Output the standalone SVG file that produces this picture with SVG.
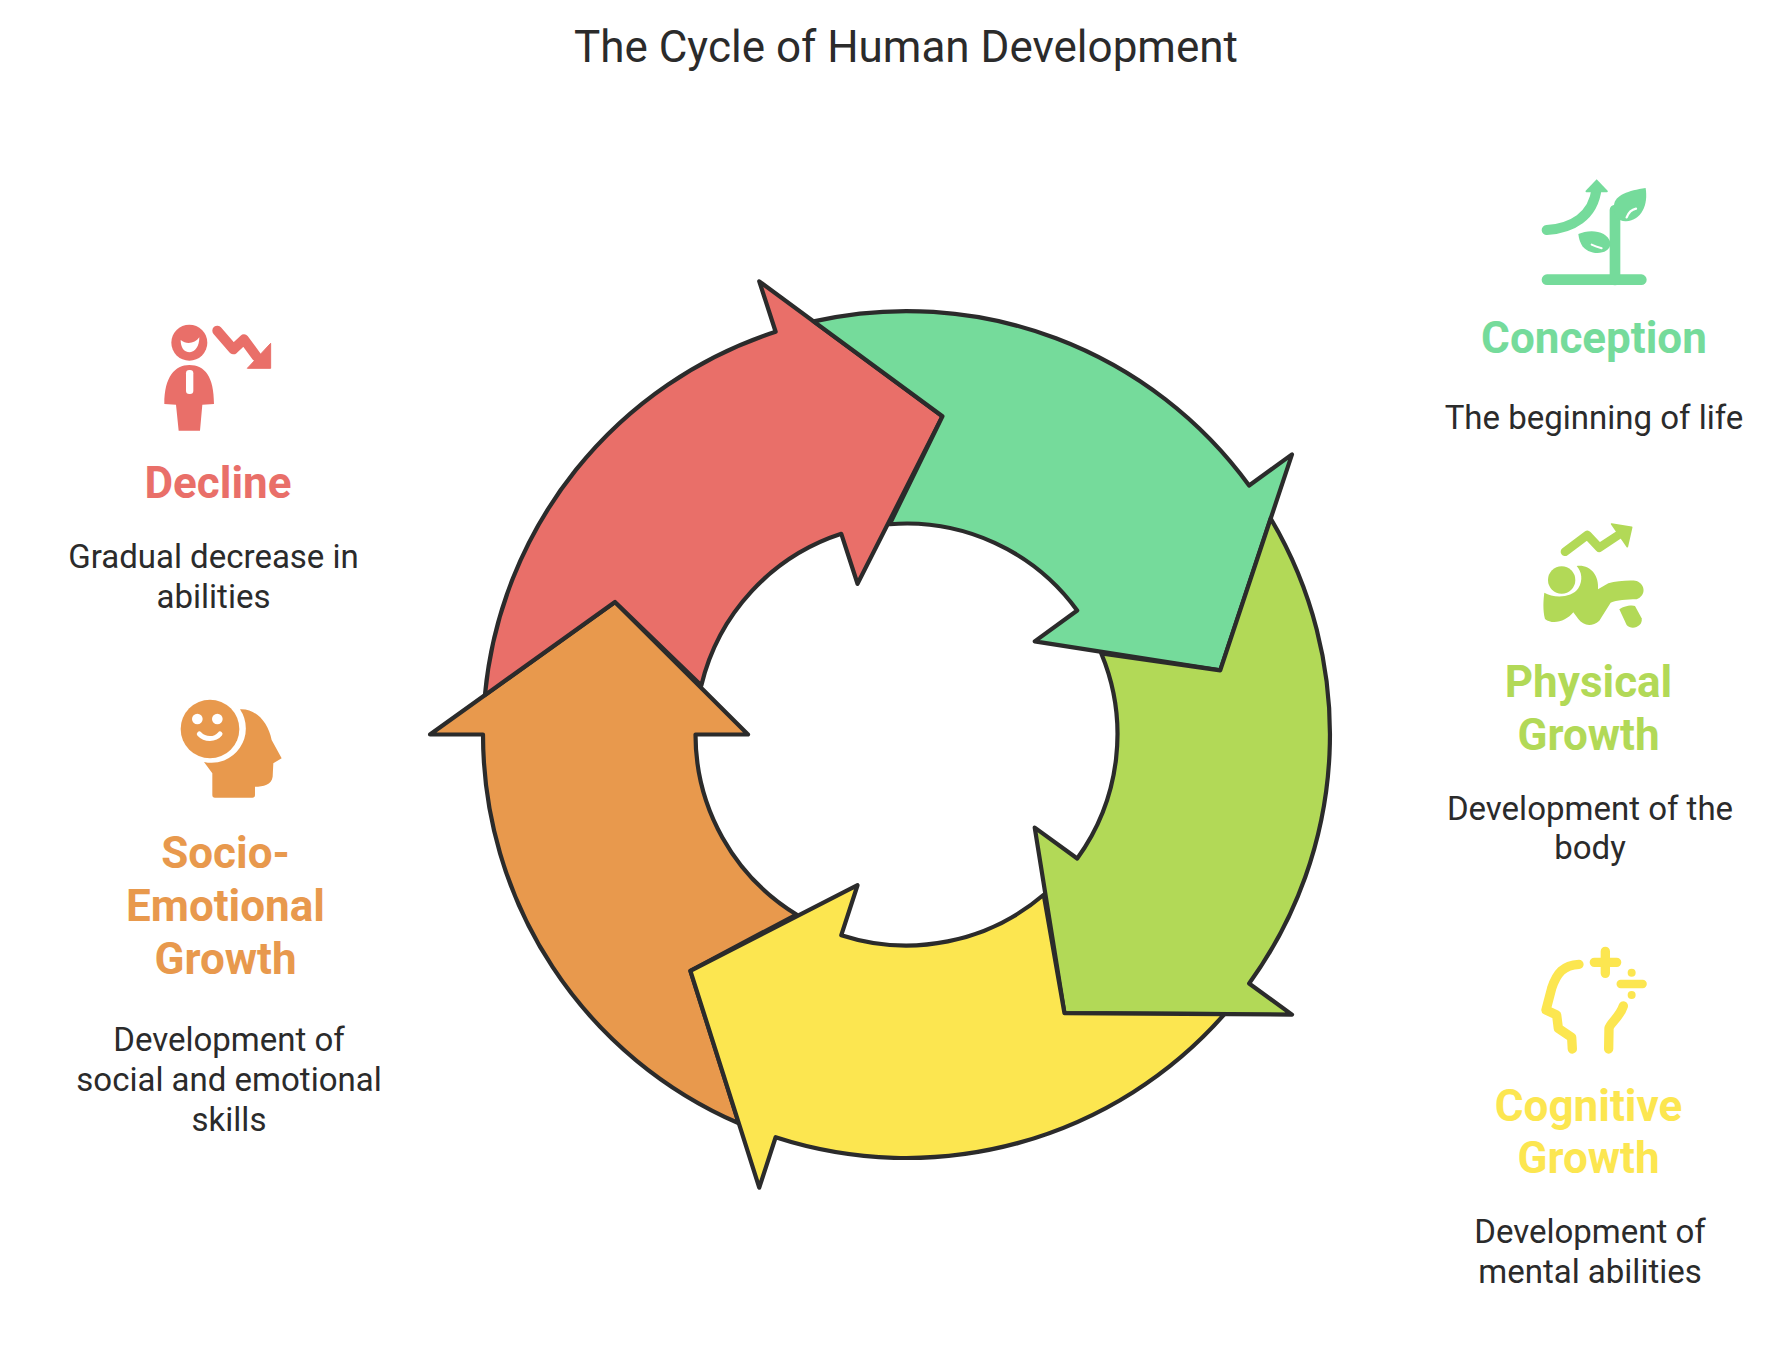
<svg xmlns="http://www.w3.org/2000/svg" width="1788" height="1358" viewBox="0 0 1788 1358">
<style>
text{font-family:Roboto,"Liberation Sans",sans-serif;text-anchor:middle}
.title{font-size:44px;fill:#2b2b2b}
.h{font-size:44px;font-weight:700}
.d{font-size:33px;fill:#2b2b2b}
.ar{stroke:#2b2b2b;stroke-width:4.2;stroke-linejoin:round}
.red{fill:#E96F69}.grn{fill:#75DB9B}.lim{fill:#B2D957}.yel{fill:#FCE650}.org{fill:#E8994D}
.s{fill:none;stroke-linecap:round;stroke-linejoin:round}
</style>
<defs>
<path id="arrow" d="M483 734.5L430 734.5L615 602L748 734.5L695.5 734.5A211 211 0 0 0 796.5 914.5L690.4 970.8L738.8 1123.3A423.5 423.5 0 0 1 483 734.5Z"/>
</defs>
<rect width="1788" height="1358" fill="#fff"/>
<text class="title" x="906" y="62">The Cycle of Human Development</text>
<g id="connectors"/>
<g id="cycle-orange"><use href="#arrow" class="ar org"/></g>
<g id="cycle-red"><use href="#arrow" class="ar red" transform="rotate(72 906.5 734.5)"/></g>
<g id="cycle-green"><use href="#arrow" class="ar grn" transform="rotate(144 906.5 734.5)"/></g>
<g id="cycle-lime"><use href="#arrow" class="ar lim" transform="rotate(216 906.5 734.5)"/></g>
<g id="cycle-yellow"><use href="#arrow" class="ar yel" transform="rotate(288 906.5 734.5)"/></g>

<g id="conception">
<g transform="translate(1500 160) scale(.3333)">
<rect x="125" y="343" width="315" height="32" rx="16" fill="#75DB9B"/>
<path class="s" stroke="#75DB9B" stroke-width="32" d="M345 360V150"/>
<path class="s" stroke="#75DB9B" stroke-width="30" d="M140 210C215 205 280 170 290 85"/>
<path fill="#75DB9B" d="M257 92L290 58L323 92Q325 97 318 97H262Q255 97 257 92Z"/>
<path fill="#75DB9B" d="M342 135C345 105 385 92 437 84C445 135 425 180 378 184C355 185 340 165 342 135Z"/>
<path class="s" stroke="#fff" stroke-width="7" d="M380 172C386 157 394 149 408 146"/>
<path fill="#75DB9B" d="M235 222C265 208 322 208 332 250C330 280 290 285 265 273C245 263 238 245 235 222Z"/>
<path class="s" stroke="#fff" stroke-width="6" d="M275 254C285 259 295 262 305 265"/>
</g>
<text class="h grn" x="1594" y="353">Conception</text>
<text class="d" x="1594" y="429">The beginning of life</text>
</g>

<g id="physical-growth">
<g transform="translate(1510 510) scale(.3333)">
<path class="s" stroke="#B2D957" stroke-width="26" d="M165 125L232 75L268 113L330 72"/>
<path fill="#B2D957" d="M305 42L365 52L352 110Z" stroke="#B2D957" stroke-width="5" stroke-linejoin="round"/>
<circle cx="155" cy="210" r="41" fill="#B2D957"/>
<path fill="#B2D957" d="M200 168C240 163 268 195 264 238L295 220C320 213 360 210 380 213C408 225 408 257 380 268C350 268 320 271 302 278L268 332C245 352 220 347 205 327L190 307C170 332 130 347 105 327C98 300 100 270 103 248C130 265 185 265 205 235C220 210 215 185 200 168Z"/>
<path fill="#B2D957" d="M328 298C335 290 365 283 375 288L395 325C400 350 365 362 350 345Z"/>
</g>
<text class="h lim" x="1588.500" y="697">Physical</text>
<text class="h lim" x="1588.500" y="750">Growth</text>
<text class="d" x="1590" y="820">Development of the</text>
<text class="d" x="1590" y="859">body</text>
</g>

<g id="cognitive-growth">
<g transform="translate(1510 930) scale(.3333)">
<path class="s" stroke="#FCE650" stroke-width="28" d="M207 103C160 105 140 130 125 175L108 240L140 255L145 295L185 322L187 357"/>
<path class="s" stroke="#FCE650" stroke-width="28" d="M340 228C330 260 300 280 297 295L296 357"/>
<path class="s" stroke="#FCE650" stroke-width="28" d="M253 97H320M286 64V130"/>
<path class="s" stroke="#FCE650" stroke-width="25" d="M332 162H398"/>
<circle cx="365" cy="128" r="12" fill="#FCE650"/><circle cx="365" cy="195" r="12" fill="#FCE650"/>
</g>
<text class="h yel" x="1588.500" y="1121">Cognitive</text>
<text class="h yel" x="1588.500" y="1173">Growth</text>
<text class="d" x="1590" y="1243">Development of</text>
<text class="d" x="1590" y="1283">mental abilities</text>
</g>

<g id="socio-emotional-growth">
<g transform="translate(160 680) scale(.3333)">
<circle cx="150" cy="147" r="88" fill="#E8994D"/>
<circle cx="112" cy="117" r="16" fill="#fff"/><circle cx="172" cy="117" r="16" fill="#fff"/>
<path class="s" stroke="#fff" stroke-width="15" d="M118 162C135 180 165 180 180 162"/>
<path fill="#E8994D" d="M240 88C290 85 325 130 335 180L365 235L340 250L338 290C335 315 310 320 285 320V345Q285 353 277 353H165Q157 353 157 345V280L132 246A103 103 0 0 0 240 88Z"/>
</g>
<text class="h org" x="225.500" y="868">Socio-</text>
<text class="h org" x="225.500" y="921">Emotional</text>
<text class="h org" x="225.500" y="974">Growth</text>
<text class="d" x="229" y="1051">Development of</text>
<text class="d" x="229" y="1091">social and emotional</text>
<text class="d" x="229" y="1131">skills</text>
</g>

<g id="decline">
<g transform="translate(140 310) scale(.3333)">
<circle cx="148" cy="98" r="54" fill="#E96F69"/>
<path fill="#fff" d="M122 90C140 105 165 100 178 82C178 110 165 125 150 127C130 127 122 110 122 90Z"/>
<path fill="#E96F69" d="M148 165C195 165 222 200 222 282L187 284L180 362H116L108 284L73 282C73 200 105 165 148 165Z"/>
<rect x="138" y="180" width="22" height="72" rx="10" fill="#fff"/>
<path class="s" stroke="#E96F69" stroke-width="30" d="M232 62L280 118L312 88L350 140"/>
<path fill="#E96F69" d="M392 100V175H322Z" stroke="#E96F69" stroke-width="3" stroke-linejoin="round"/>
</g>
<text class="h red" x="218" y="498">Decline</text>
<text class="d" x="213.500" y="568">Gradual decrease in</text>
<text class="d" x="213.500" y="608">abilities</text>
</g>
</svg>
